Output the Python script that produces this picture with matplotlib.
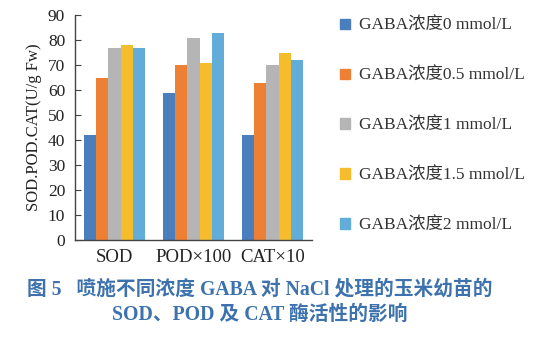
import numpy as np
import matplotlib.pyplot as plt
from matplotlib.patches import Patch

plt.rcParams['font.family'] = ['Liberation Serif', 'Noto Sans CJK SC']

groups = ['SOD', 'POD×100', 'CAT×10']
labels = ['GABA浓度0 mmol/L', 'GABA浓度0.5 mmol/L', 'GABA浓度1 mmol/L',
          'GABA浓度1.5 mmol/L', 'GABA浓度2 mmol/L']
vals_0 = [42, 59, 42]
vals_05 = [65, 70, 63]
vals_1 = [77, 81, 70]
vals_15 = [78, 71, 75]
vals_2 = [77, 83, 72]
colors = ['#4a7ebd', '#ee8035', '#b5b5b5', '#f5bc2c', '#62acd9']

series = [vals_0, vals_05, vals_1, vals_15, vals_2]

fig = plt.figure(figsize=(5.55, 3.57), dpi=100)
ax = fig.add_axes([0.135, 0.327, 0.427, 0.631])

x = np.arange(len(groups))
w = 0.155
for i, (v, c) in enumerate(zip(series, colors)):
    ax.bar(x + (i - 2) * w, v, w, color=c, label=labels[i])

ax.set_xlim(-0.5, 2.5)
ax.set_ylim(0, 90)
ax.set_yticks(range(0, 91, 10))
ax.set_xticks(x)
ax.set_xticklabels(groups, fontsize=13.5)
ax.tick_params(axis='y', direction='in', length=4, labelsize=12.5, color='#444444', pad=7)
ax.tick_params(axis='x', length=0, pad=6)
for s in ['top', 'right']:
    ax.spines[s].set_visible(False)
for s in ['left', 'bottom']:
    ax.spines[s].set_color('#444444')
    ax.spines[s].set_linewidth(1.0)
ax.set_ylabel('SOD.POD.CAT(U/g Fw)', fontsize=12, labelpad=4, color='#222222')
for t in ax.get_yticklabels() + ax.get_xticklabels():
    t.set_color('#222222')

handles = [Patch(color=c) for c in colors]
fig.legend(handles, labels, loc='upper left', bbox_to_anchor=(0.585, 0.993),
           frameon=False, fontsize=12.5, handlelength=0.55, handleheight=0.55,
           handletextpad=0.55, labelspacing=1.95, labelcolor='#333333')

cap = '#3d72ad'
fig.text(0.468, 0.188, '图 5   喷施不同浓度 GABA 对 NaCl 处理的玉米幼苗的',
         ha='center', va='center', fontsize=14.2, color=cap, fontweight='bold')
fig.text(0.468, 0.117, 'SOD、POD 及 CAT 酶活性的影响',
         ha='center', va='center', fontsize=14.2, color=cap, fontweight='bold')

fig.savefig('out.png', dpi=100)
